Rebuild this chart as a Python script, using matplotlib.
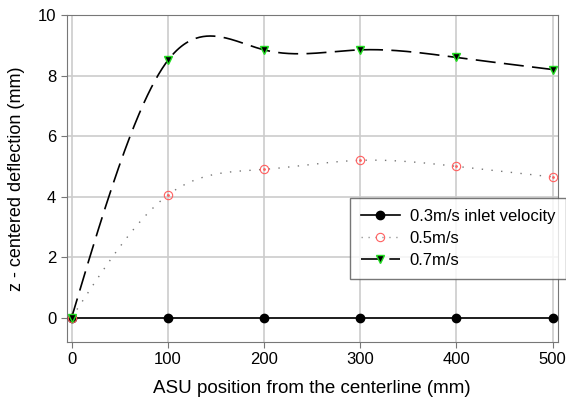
import numpy as np
import matplotlib
matplotlib.use("Agg")
import matplotlib.pyplot as plt

plt.rcParams['font.family'] = ['Liberation Sans', 'DejaVu Sans']

positions = [0, 100, 200, 300, 400, 500]
v03 = [0, 0, 0, 0, 0, 0]
v05 = [0, 4.05, 4.9, 5.2, 5.0, 4.65]
v07 = [0, 8.5, 8.85, 8.85, 8.6, 8.2]


def natural_spline(x, y, xs):
    x = np.asarray(x, float)
    y = np.asarray(y, float)
    n = len(x)
    h = np.diff(x)
    A = np.zeros((n, n))
    b = np.zeros(n)
    A[0, 0] = A[-1, -1] = 1
    for i in range(1, n - 1):
        A[i, i - 1] = h[i - 1]
        A[i, i] = 2 * (h[i - 1] + h[i])
        A[i, i + 1] = h[i]
        b[i] = 3 * ((y[i + 1] - y[i]) / h[i] - (y[i] - y[i - 1]) / h[i - 1])
    c = np.linalg.solve(A, b)
    out = np.empty_like(xs)
    for k, xv in enumerate(xs):
        i = min(np.searchsorted(x, xv, side='right') - 1, n - 2)
        dx = xv - x[i]
        bi = (y[i + 1] - y[i]) / h[i] - h[i] * (2 * c[i] + c[i + 1]) / 3
        di = (c[i + 1] - c[i]) / (3 * h[i])
        out[k] = y[i] + bi * dx + c[i] * dx ** 2 + di * dx ** 3
    return out


xs = np.linspace(positions[0], positions[-1], 400)

fig, ax = plt.subplots(figsize=(5.66, 4.07), dpi=100)
fig.subplots_adjust(left=0.118, right=0.985, top=0.963, bottom=0.16)

ax.plot(positions, v03, color='black', lw=1.2, marker='o', ms=6,
        label='0.3m/s inlet velocity', zorder=3)

ax.plot(xs, natural_spline(positions, v05, xs), color='#777777', lw=1,
        linestyle=(0, (1, 6)), zorder=2)
ax.plot(positions, v05, linestyle='none', marker='o', ms=6, mfc='none',
        mec='#ff6060', mew=0.8, zorder=4)
ax.plot(positions, v05, linestyle='none', marker='.', ms=2, color='#ff6060', zorder=4)

ax.plot(xs, natural_spline(positions, v07, xs), color='black', lw=1.2,
        dashes=(12, 5), zorder=2)
ax.plot(positions, v07, linestyle='none', marker='v', ms=6, mfc='black',
        mec='#22dd22', mew=1, zorder=5)

# legend proxies
h1, = ax.plot([], [], color='black', lw=1.2, marker='o', ms=6)
h2, = ax.plot([], [], color='#999999', lw=1, linestyle=(0, (1, 4)),
              marker='o', ms=6, mfc='none', mec='#ff6060', mew=0.8)
h3, = ax.plot([], [], color='black', lw=1.2, dashes=(12, 5), marker='v',
              ms=6, mfc='black', mec='#22dd22', mew=1)
leg = ax.legend([h1, h2, h3], ['0.3m/s inlet velocity', '0.5m/s', '0.7m/s'],
                loc='upper left', bbox_to_anchor=(0.578, 0.44), fontsize=12,
                frameon=True, fancybox=False, edgecolor='#555555',
                handlelength=2.3, borderpad=0.65, labelspacing=0.42,
                handletextpad=0.6, borderaxespad=0)
leg.get_frame().set_linewidth(1)

ax.set_xlim(-5, 505)
ax.set_ylim(-0.8, 10)
ax.set_xticks(positions)
ax.set_yticks([0, 2, 4, 6, 8, 10])
ax.grid(True, color='#cccccc', lw=1.2)
ax.set_axisbelow(True)
for s in ax.spines.values():
    s.set_color('#777777')
ax.tick_params(colors='black', labelsize=12, length=4, color='#777777')
ax.set_xlabel('ASU position from the centerline (mm)', fontsize=13.5, labelpad=9)
ax.set_ylabel('z - centered deflection (mm)', fontsize=13, labelpad=9)

fig.savefig('out.png', dpi=100)
